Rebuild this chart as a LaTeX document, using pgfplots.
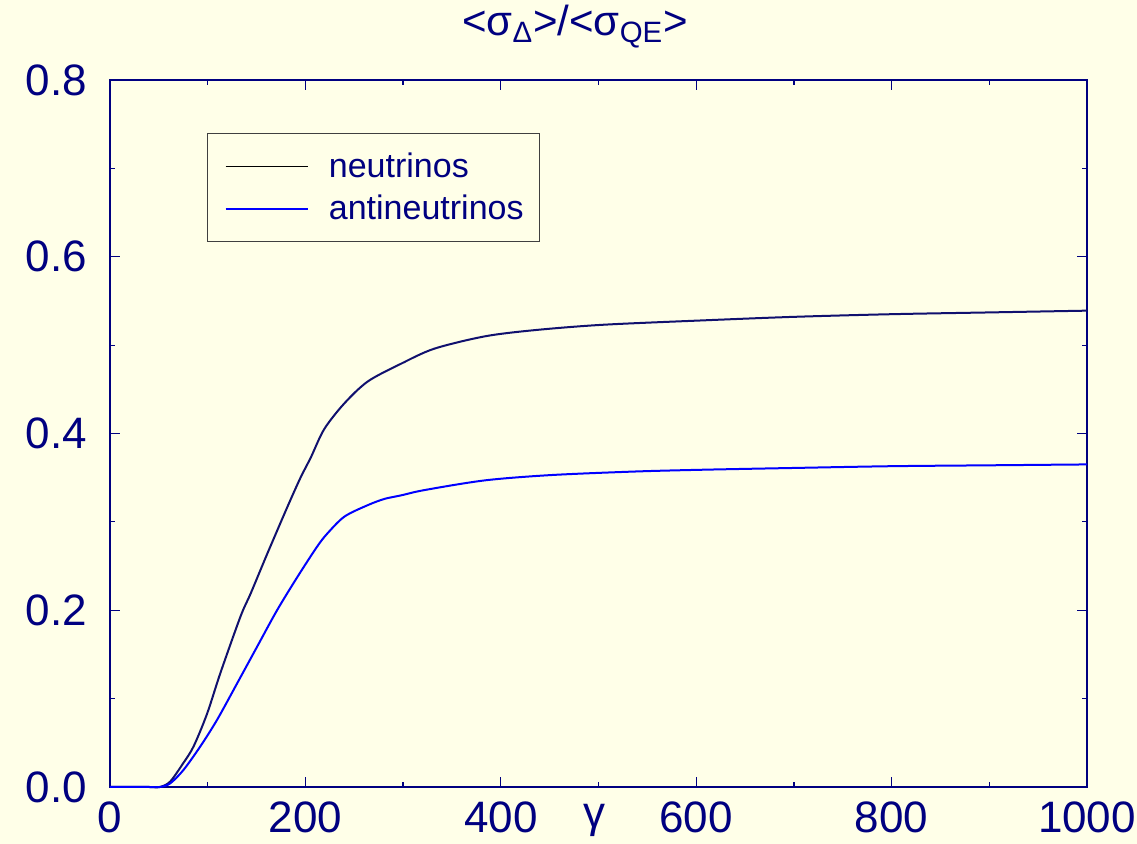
\documentclass[border=0pt]{standalone}
\usepackage{fontspec}
\setmainfont{Liberation Sans}
\usepackage{pgfplots}
\pgfplotsset{compat=1.18}
\usetikzlibrary{backgrounds}
\definecolor{bgc}{RGB}{255,255,232}
\definecolor{txt}{RGB}{0,0,128}
\definecolor{nucol}{RGB}{16,16,110}
\definecolor{anucol}{RGB}{0,0,255}

\begin{document}
\begin{tikzpicture}
\begin{axis}[
    at={(0,0)}, anchor=south west,
    scale only axis,
    width=488.5pt, height=353.5pt,
    xmin=0, xmax=1000, ymin=0, ymax=0.8,
    xtick={0,200,...,1000},
    ytick={0,0.2,...,0.8},
    minor x tick num=1, minor y tick num=1,
    major tick length=5pt, minor tick length=2.5pt,
    tick align=inside,
    axis line style={txt, line width=0.8pt},
    every tick/.style={txt, line width=0.6pt},
    /pgf/number format/assume math mode=true,
    /pgf/number format/1000 sep={},
    yticklabel style={/pgf/number format/fixed, /pgf/number format/fixed zerofill, /pgf/number format/precision=1, xshift=-8pt},
    xticklabel style={yshift=-4pt},
    tick label style={font=\fontsize{22}{26}\selectfont, text=txt},
    xlabel={γ},
    xlabel style={at={(axis description cs:0.496,0)}, anchor=north, yshift=-5pt, font=\fontsize{22}{26}\selectfont, text=txt},
    legend style={at={(axis description cs:0.099,0.925)}, anchor=north west,
        draw=black!75, fill=none, font=\fontsize{17}{21}\selectfont, text=txt,
        row sep=3.5pt, inner xsep=6pt, inner ysep=7.5pt},
    legend cell align=left,
    legend image code/.code={\path (-3pt,0pt); \draw[#1, line width=0.7pt] (0pt,0pt) -- (41pt,0pt); \path (49.5pt,0pt);},
    clip=false,
]
\addlegendimage{black}
\addlegendentry{neutrinos}
\addlegendimage{anucol}
\addlegendentry{antineutrinos}

% neutrinos
\addplot[nucol, line width=1pt, smooth, forget plot] coordinates {
(0,0) (20,0) (40,0) (51,0.000) (61.5,0.006) (75,0.027) (85.6,0.046) (99.4,0.083)
(113,0.129) (133.6,0.193) (144,0.219) (161,0.264) (181.6,0.317) (195,0.350)
(205.6,0.373) (219.3,0.405) (239.8,0.434) (264,0.459) (298,0.479) (332,0.496)
(384,0.510) (435,0.517) (504,0.523) (607,0.528) (700,0.532) (800,0.535)
(900,0.537) (1000,0.539)};

% antineutrinos
\addplot[anucol, line width=1pt, smooth, forget plot] coordinates {
(0,0) (20,0) (40,0) (51,0.000) (61.5,0.004) (75,0.019) (92.5,0.046) (109.6,0.076)
(130,0.117) (150.7,0.159) (171,0.200) (192,0.238) (212,0.272) (222.6,0.287)
(240,0.306) (264,0.319) (281,0.326) (298,0.330) (322,0.336) (384,0.347)
(452,0.353) (538,0.357) (607,0.359) (700,0.361) (800,0.363) (900,0.364)
(1000,0.365)};
\end{axis}

\node[text=txt, font=\fontsize{21}{25}\selectfont, anchor=base] at (232.5pt,375.5pt)
  {<σ\textsubscript{Δ}>/<σ\textsubscript{QE}>};

\begin{pgfonlayer}{background}
\fill[bgc] (-55pt,-28.5pt) rectangle (513.5pt,393.5pt);
\end{pgfonlayer}
\pgfresetboundingbox
\useasboundingbox (-55pt,-28.5pt) rectangle (513.5pt,393.5pt);
\end{tikzpicture}
\end{document}
